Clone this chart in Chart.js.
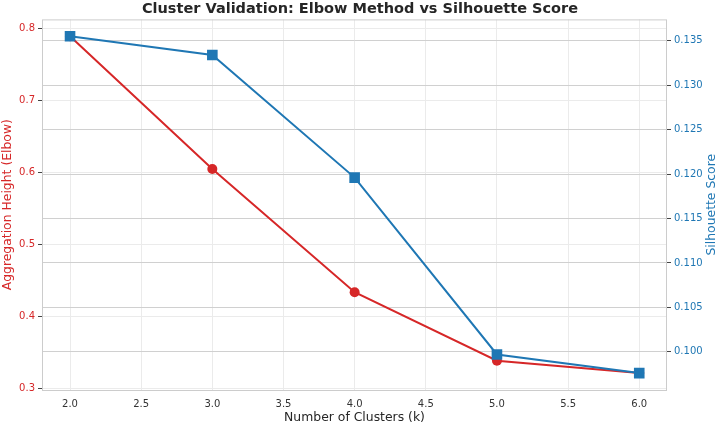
<!DOCTYPE html>
<html>
<head>
<meta charset="utf-8">
<script src="https://cdn.jsdelivr.net/npm/chart.js@4/dist/chart.umd.min.js"></script>
<style>
  html, body { margin: 0; padding: 0; background: #fff; }
  #wrap { width: 720px; height: 426px; }
</style>
</head>
<body>
<div id="wrap"><canvas id="chart" width="720" height="426"></canvas></div>
<script>
// Data
const clusters = [2, 3, 4, 5, 6];
const elbowHeight = [0.789, 0.605, 0.434, 0.339, 0.322];
const silhouette = [0.1355, 0.1334, 0.1196, 0.0997, 0.0976];

const xTicks = [2.0, 2.5, 3.0, 3.5, 4.0, 4.5, 5.0, 5.5, 6.0];
const leftTicks = [0.3, 0.4, 0.5, 0.6, 0.7, 0.8];
const rightTicks = [0.100, 0.105, 0.110, 0.115, 0.120, 0.125, 0.130, 0.135];

const RED = '#d62728';
const BLUE = '#1f77b4';
const FONT = "'DejaVu Sans', sans-serif";

Chart.defaults.font.family = FONT;

const toPoints = (xs, ys) => xs.map((x, i) => ({ x, y: ys[i] }));
const setTicks = vals => axis => { axis.ticks = vals.map(v => ({ value: v })); };

// light frame around the plot area + right axis title reading bottom-to-top
const extras = {
  id: 'extras',
  afterDraw(chart) {
    const { ctx, chartArea: a } = chart;
    ctx.save();
    ctx.strokeStyle = '#cccccc';
    ctx.lineWidth = 1;
    ctx.strokeRect(a.left + 0.5, a.top + 0.5, a.right - a.left - 1, a.bottom - a.top);

    ctx.translate(711.5, (a.top + a.bottom) / 2);
    ctx.rotate(-Math.PI / 2);
    ctx.fillStyle = BLUE;
    ctx.font = "12.4px " + FONT;
    ctx.textAlign = 'center';
    ctx.textBaseline = 'middle';
    ctx.fillText('Silhouette Score', 0, 0);
    ctx.restore();
  }
};

new Chart(document.getElementById('chart'), {
  type: 'line',
  data: {
    datasets: [
      {
        label: 'Silhouette Score',
        data: toPoints(clusters, silhouette),
        yAxisID: 'y1',
        borderColor: BLUE,
        backgroundColor: BLUE,
        borderWidth: 2,
        pointStyle: 'rect',
        pointRadius: 7.5,
        pointBorderWidth: 0,
        order: 0
      },
      {
        label: 'Aggregation Height (Elbow)',
        data: toPoints(clusters, elbowHeight),
        yAxisID: 'y',
        borderColor: RED,
        backgroundColor: RED,
        borderWidth: 2,
        pointStyle: 'circle',
        pointRadius: 5,
        pointBorderWidth: 0,
        order: 1
      }
    ]
  },
  options: {
    responsive: false,
    animation: false,
    layout: { padding: 0 },
    plugins: {
      legend: { display: false },
      tooltip: { enabled: false },
      title: {
        display: true,
        text: 'Cluster Validation: Elbow Method vs Silhouette Score',
        color: '#262626',
        font: { size: 14.5, weight: 'bold', family: FONT },
        padding: { top: 1, bottom: 1 }
      }
    },
    scales: {
      x: {
        type: 'linear',
        min: 1.803,
        max: 6.195,
        afterBuildTicks: setTicks(xTicks),
        afterFit: s => { s.height = 36; },
        grid: { color: '#ebebeb', drawTicks: false },
        border: { display: false },
        ticks: {
          color: '#333',
          font: { size: 10 },
          padding: 8,
          callback: v => v.toFixed(1)
        },
        title: {
          display: true,
          text: 'Number of Clusters (k)',
          color: '#262626',
          font: { size: 12.4 },
          padding: { top: 0, bottom: 1 }
        }
      },
      y: {
        position: 'left',
        min: 0.2984,
        max: 0.8124,
        afterBuildTicks: setTicks(leftTicks),
        afterFit: s => { s.width = 42; },
        grid: { color: '#ebebeb', tickColor: '#444', tickLength: 4 },
        border: { display: false },
        ticks: {
          color: RED,
          font: { size: 10 },
          padding: 3,
          callback: v => v.toFixed(1)
        },
        title: {
          display: true,
          text: 'Aggregation Height (Elbow)',
          color: RED,
          font: { size: 12.4 },
          padding: 0
        }
      },
      y1: {
        position: 'right',
        min: 0.0957,
        max: 0.1374,
        afterBuildTicks: setTicks(rightTicks),
        afterFit: s => { s.width = 53; },
        grid: { color: '#d0d0d0', tickColor: '#444', tickLength: 4 },
        border: { display: false },
        ticks: {
          color: BLUE,
          font: { size: 10 },
          padding: 3,
          callback: v => v.toFixed(3)
        },
        title: { display: false }
      }
    }
  },
  plugins: [extras]
});
</script>
</body>
</html>
